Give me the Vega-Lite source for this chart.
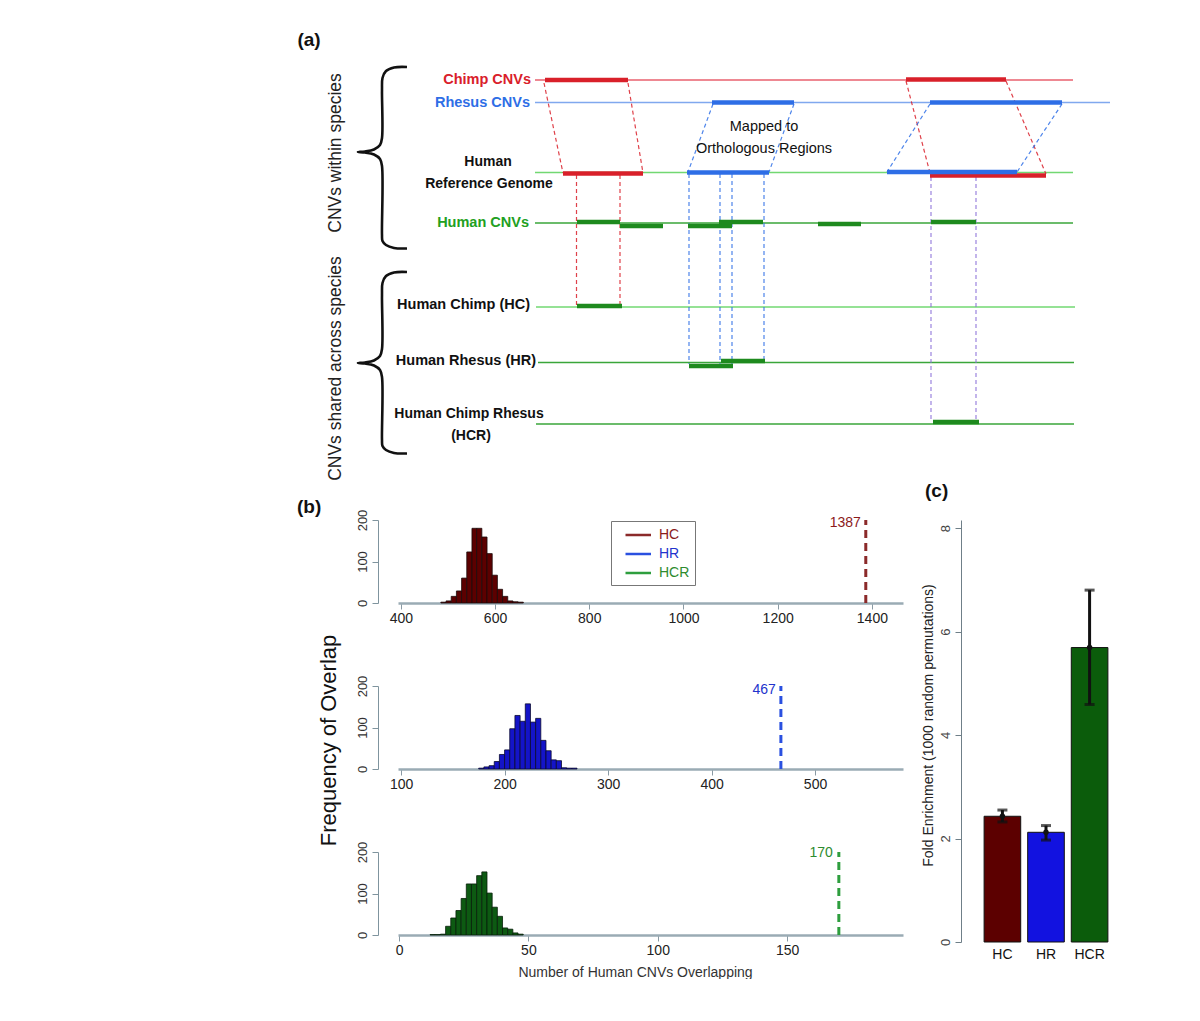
{
  "$schema": "https://vega.github.io/schema/vega-lite/v6.json",
  "padding": 0,
  "background": "white",
  "bounds": "flush",
  "spacing": 50,
  "resolve": {"scale": {"color": "independent", "fill": "independent"}},
  "config": {"view": {"stroke": null}, "font": "Liberation Sans"},
  "datasets": {
    "tracks": [
      {"x0": 53.5, "x1": 107.3, "y": 8.0, "kind": "chimpTrack"},
      {"x0": 53.5, "x1": 111.0, "y": 10.25, "kind": "rhesusTrack"},
      {"x0": 53.5, "x1": 107.3, "y": 17.25, "kind": "humanTrack"},
      {"x0": 53.5, "x1": 107.3, "y": 22.3, "kind": "sharedTrack"},
      {"x0": 53.6, "x1": 107.5, "y": 30.7, "kind": "humanTrack"},
      {"x0": 53.8, "x1": 107.4, "y": 36.25, "kind": "sharedTrack"},
      {"x0": 53.6, "x1": 107.4, "y": 42.4, "kind": "sharedTrack"}
    ],
    "dashes": [
      {"x0": 54.4, "y0": 8.3, "x1": 56.3, "y1": 17.3, "kind": "chimp"},
      {"x0": 62.8, "y0": 8.3, "x1": 64.3, "y1": 17.3, "kind": "chimp"},
      {"x0": 57.65, "y0": 17.5, "x1": 57.65, "y1": 30.6, "kind": "chimp"},
      {"x0": 62.0, "y0": 17.5, "x1": 62.0, "y1": 30.6, "kind": "chimp"},
      {"x0": 90.6, "y0": 8.1, "x1": 93.0, "y1": 17.3, "kind": "chimp"},
      {"x0": 100.6, "y0": 8.1, "x1": 104.6, "y1": 17.4, "kind": "chimp"},
      {"x0": 71.3, "y0": 10.4, "x1": 68.8, "y1": 17.2, "kind": "rhesus"},
      {"x0": 79.4, "y0": 10.4, "x1": 76.9, "y1": 17.2, "kind": "rhesus"},
      {"x0": 93.0, "y0": 10.4, "x1": 88.7, "y1": 17.2, "kind": "rhesus"},
      {"x0": 106.2, "y0": 10.4, "x1": 101.7, "y1": 17.2, "kind": "rhesus"},
      {"x0": 68.9, "y0": 17.4, "x1": 68.9, "y1": 36.4, "kind": "rhesus"},
      {"x0": 72.0, "y0": 17.4, "x1": 72.0, "y1": 36.4, "kind": "rhesus"},
      {"x0": 73.2, "y0": 17.4, "x1": 73.2, "y1": 36.4, "kind": "rhesus"},
      {"x0": 76.4, "y0": 17.4, "x1": 76.4, "y1": 36.1, "kind": "rhesus"},
      {"x0": 93.1, "y0": 17.7, "x1": 93.1, "y1": 42.2, "kind": "both"},
      {"x0": 97.6, "y0": 17.7, "x1": 97.6, "y1": 42.2, "kind": "both"}
    ],
    "segs": [
      {"x0": 54.5, "x1": 62.8, "y": 8.0, "kind": "chimp"},
      {"x0": 90.6, "x1": 100.6, "y": 7.95, "kind": "chimp"},
      {"x0": 71.2, "x1": 79.4, "y": 10.25, "kind": "rhesus"},
      {"x0": 93.0, "x1": 106.2, "y": 10.25, "kind": "rhesus"},
      {"x0": 56.3, "x1": 64.3, "y": 17.35, "kind": "chimp"},
      {"x0": 93.0, "x1": 104.6, "y": 17.55, "kind": "chimp"},
      {"x0": 68.7, "x1": 76.9, "y": 17.25, "kind": "rhesus"},
      {"x0": 88.7, "x1": 101.7, "y": 17.2, "kind": "rhesus"},
      {"x0": 57.7, "x1": 62.0, "y": 22.2, "kind": "human"},
      {"x0": 62.0, "x1": 66.3, "y": 22.6, "kind": "human"},
      {"x0": 68.8, "x1": 73.2, "y": 22.6, "kind": "human"},
      {"x0": 71.9, "x1": 76.3, "y": 22.2, "kind": "human"},
      {"x0": 81.8, "x1": 86.1, "y": 22.4, "kind": "human"},
      {"x0": 93.1, "x1": 97.6, "y": 22.2, "kind": "human"},
      {"x0": 57.7, "x1": 62.2, "y": 30.6, "kind": "human"},
      {"x0": 68.9, "x1": 73.3, "y": 36.6, "kind": "human"},
      {"x0": 72.1, "x1": 76.5, "y": 36.1, "kind": "human"},
      {"x0": 93.3, "x1": 97.9, "y": 42.2, "kind": "human"}
    ],
    "braces": [
      {"b": 1, "i": 0, "x": 40.7, "y": 6.7}, {"b": 1, "i": 1, "x": 39.4, "y": 6.75}, {"b": 1, "i": 2, "x": 38.6, "y": 7.1},
      {"b": 1, "i": 3, "x": 38.25, "y": 7.8}, {"b": 1, "i": 4, "x": 38.2, "y": 9.0}, {"b": 1, "i": 5, "x": 38.2, "y": 13.8},
      {"b": 1, "i": 6, "x": 38.0, "y": 14.5}, {"b": 1, "i": 7, "x": 37.4, "y": 14.95}, {"b": 1, "i": 8, "x": 36.5, "y": 15.15},
      {"b": 1, "i": 9, "x": 35.8, "y": 15.2}, {"b": 1, "i": 10, "x": 36.5, "y": 15.25}, {"b": 1, "i": 11, "x": 37.4, "y": 15.45},
      {"b": 1, "i": 12, "x": 38.0, "y": 15.9}, {"b": 1, "i": 13, "x": 38.2, "y": 16.6}, {"b": 1, "i": 14, "x": 38.2, "y": 23.5},
      {"b": 1, "i": 15, "x": 38.25, "y": 24.1}, {"b": 1, "i": 16, "x": 38.6, "y": 24.5}, {"b": 1, "i": 17, "x": 39.4, "y": 24.8},
      {"b": 1, "i": 18, "x": 40.7, "y": 24.85},
      {"b": 2, "i": 0, "x": 40.7, "y": 27.2}, {"b": 2, "i": 1, "x": 39.4, "y": 27.25}, {"b": 2, "i": 2, "x": 38.6, "y": 27.6},
      {"b": 2, "i": 3, "x": 38.25, "y": 28.3}, {"b": 2, "i": 4, "x": 38.2, "y": 29.5}, {"b": 2, "i": 5, "x": 38.2, "y": 34.9},
      {"b": 2, "i": 6, "x": 38.0, "y": 35.6}, {"b": 2, "i": 7, "x": 37.4, "y": 36.05}, {"b": 2, "i": 8, "x": 36.5, "y": 36.25},
      {"b": 2, "i": 9, "x": 35.8, "y": 36.3}, {"b": 2, "i": 10, "x": 36.5, "y": 36.35}, {"b": 2, "i": 11, "x": 37.4, "y": 36.55},
      {"b": 2, "i": 12, "x": 38.0, "y": 37.0}, {"b": 2, "i": 13, "x": 38.2, "y": 37.7}, {"b": 2, "i": 14, "x": 38.2, "y": 44.0},
      {"b": 2, "i": 15, "x": 38.25, "y": 44.6}, {"b": 2, "i": 16, "x": 38.6, "y": 45.0}, {"b": 2, "i": 17, "x": 39.4, "y": 45.3},
      {"b": 2, "i": 18, "x": 40.7, "y": 45.35}
    ],
    "labelsR": [
      {"t": "Chimp CNVs", "x": 53.1, "y": 8.0, "kind": "chimp"},
      {"t": "Rhesus CNVs", "x": 53.0, "y": 10.25, "kind": "rhesus"},
      {"t": "Human CNVs", "x": 52.9, "y": 22.3, "kind": "humanLabel"},
      {"t": "Human Chimp (HC)", "x": 53.0, "y": 30.5, "kind": "ink"},
      {"t": "Human Rhesus (HR)", "x": 53.6, "y": 36.1, "kind": "ink"}
    ],
    "labelsC": [
      {"t": "Human", "x": 48.8, "y": 16.2, "kind": "ink"},
      {"t": "Reference Genome", "x": 48.9, "y": 18.4, "kind": "ink"},
      {"t": "Human Chimp Rhesus", "x": 46.9, "y": 41.4, "kind": "ink"},
      {"t": "(HCR)", "x": 47.1, "y": 43.6, "kind": "ink"}
    ],
    "labelsP": [
      {"t": "Mapped to", "x": 76.4, "y": 12.7},
      {"t": "Orthologous Regions", "x": 76.4, "y": 14.9}
    ],
    "labelsRot": [
      {"t": "CNVs within species", "x": 33.6, "y": 15.3},
      {"t": "CNVs shared across species", "x": 33.6, "y": 36.85}
    ],
    "tagA": [{"t": "(a)", "x": 30.9, "y": 4.0}],
    "hc": [
      {"lo": 485, "hi": 496, "count": 2}, {"lo": 496, "hi": 507, "count": 5}, {"lo": 507, "hi": 518, "count": 16},
      {"lo": 518, "hi": 529, "count": 29}, {"lo": 529, "hi": 540, "count": 60}, {"lo": 540, "hi": 551, "count": 123},
      {"lo": 551, "hi": 561, "count": 180}, {"lo": 561, "hi": 572, "count": 180}, {"lo": 572, "hi": 583, "count": 159},
      {"lo": 583, "hi": 594, "count": 119}, {"lo": 594, "hi": 605, "count": 67}, {"lo": 605, "hi": 616, "count": 33},
      {"lo": 616, "hi": 627, "count": 16}, {"lo": 627, "hi": 638, "count": 5}, {"lo": 638, "hi": 649, "count": 3},
      {"lo": 649, "hi": 660, "count": 2}
    ],
    "hr": [
      {"lo": 175, "hi": 180, "count": 2}, {"lo": 180, "hi": 185, "count": 5}, {"lo": 185, "hi": 190, "count": 8},
      {"lo": 190, "hi": 195, "count": 18}, {"lo": 195, "hi": 200, "count": 35}, {"lo": 200, "hi": 205, "count": 46},
      {"lo": 205, "hi": 210, "count": 97}, {"lo": 210, "hi": 215, "count": 129}, {"lo": 215, "hi": 220, "count": 115},
      {"lo": 220, "hi": 225, "count": 157}, {"lo": 225, "hi": 230, "count": 113}, {"lo": 230, "hi": 235, "count": 122},
      {"lo": 235, "hi": 240, "count": 69}, {"lo": 240, "hi": 245, "count": 44}, {"lo": 245, "hi": 250, "count": 22},
      {"lo": 250, "hi": 255, "count": 20}, {"lo": 255, "hi": 260, "count": 3}, {"lo": 260, "hi": 265, "count": 2},
      {"lo": 265, "hi": 270, "count": 2}
    ],
    "hcr": [
      {"lo": 12, "hi": 14, "count": 1}, {"lo": 14, "hi": 16, "count": 1}, {"lo": 16, "hi": 18, "count": 2},
      {"lo": 18, "hi": 20, "count": 21}, {"lo": 20, "hi": 22, "count": 41}, {"lo": 22, "hi": 24, "count": 59},
      {"lo": 24, "hi": 26, "count": 88}, {"lo": 26, "hi": 28, "count": 123}, {"lo": 28, "hi": 30, "count": 123},
      {"lo": 30, "hi": 32, "count": 143}, {"lo": 32, "hi": 34, "count": 152}, {"lo": 34, "hi": 36, "count": 101},
      {"lo": 36, "hi": 38, "count": 67}, {"lo": 38, "hi": 40, "count": 45}, {"lo": 40, "hi": 42, "count": 17},
      {"lo": 42, "hi": 44, "count": 14}, {"lo": 44, "hi": 46, "count": 5}, {"lo": 46, "hi": 48, "count": 2}
    ],
    "fe": [
      {"grp": "HC", "fe": 2.43, "lo": 2.32, "hi": 2.55},
      {"grp": "HR", "fe": 2.12, "lo": 1.97, "hi": 2.25},
      {"grp": "HCR", "fe": 5.69, "lo": 4.59, "hi": 6.8}
    ]
  },
  "vconcat": [
    {
      "width": 1200,
      "height": 470,
      "layer": [
        {
          "data": {"name": "tracks"},
          "mark": {"type": "rule", "strokeWidth": 1.3},
          "encoding": {
            "x": {"field": "x0", "type": "quantitative", "scale": {"domain": [0, 120], "nice": false, "zero": false}, "axis": null},
            "x2": {"field": "x1"},
            "y": {"field": "y", "type": "quantitative", "scale": {"domain": [0, 47], "reverse": true, "nice": false, "zero": false}, "axis": null},
            "color": {"field": "kind", "type": "nominal", "legend": null,
              "scale": {"domain": ["chimp", "rhesus", "human", "chimpTrack", "rhesusTrack", "humanTrack", "sharedTrack", "both", "ink", "humanLabel"],
                        "range": ["#d9202a", "#2e6ee6", "#1e8a1e", "#e8606e", "#80a8ee", "#72d872", "#3aa63a", "#8a6fd8", "#111111", "#22a022"]}}
          }
        },
        {
          "data": {"name": "dashes"},
          "mark": {"type": "rule", "strokeWidth": 1.2, "strokeDash": [4, 3], "opacity": 0.85},
          "encoding": {
            "x": {"field": "x0", "type": "quantitative"},
            "x2": {"field": "x1"},
            "y": {"field": "y0", "type": "quantitative"},
            "y2": {"field": "y1"},
            "color": {"field": "kind", "type": "nominal", "legend": null}
          }
        },
        {
          "data": {"name": "segs"},
          "mark": {"type": "rule", "strokeWidth": 4.5, "strokeCap": "butt"},
          "encoding": {
            "x": {"field": "x0", "type": "quantitative"},
            "x2": {"field": "x1"},
            "y": {"field": "y", "type": "quantitative"},
            "color": {"field": "kind", "type": "nominal", "legend": null}
          }
        },
        {
          "data": {"name": "braces"},
          "mark": {"type": "line", "color": "#111111", "strokeWidth": 2.6, "interpolate": "catmull-rom"},
          "encoding": {
            "x": {"field": "x", "type": "quantitative"},
            "y": {"field": "y", "type": "quantitative"},
            "detail": {"field": "b", "type": "nominal"},
            "order": {"field": "i", "type": "quantitative"}
          }
        },
        {
          "data": {"name": "labelsR"},
          "mark": {"type": "text", "align": "right", "baseline": "middle", "fontSize": 14.5, "fontWeight": "bold"},
          "encoding": {
            "x": {"field": "x", "type": "quantitative"},
            "y": {"field": "y", "type": "quantitative"},
            "text": {"field": "t"},
            "color": {"field": "kind", "type": "nominal", "legend": null}
          }
        },
        {
          "data": {"name": "labelsC"},
          "mark": {"type": "text", "align": "center", "baseline": "middle", "fontSize": 14, "fontWeight": "bold"},
          "encoding": {
            "x": {"field": "x", "type": "quantitative"},
            "y": {"field": "y", "type": "quantitative"},
            "text": {"field": "t"},
            "color": {"field": "kind", "type": "nominal", "legend": null}
          }
        },
        {
          "data": {"name": "labelsP"},
          "mark": {"type": "text", "align": "center", "baseline": "middle", "fontSize": 14.5, "color": "#111111"},
          "encoding": {
            "x": {"field": "x", "type": "quantitative"},
            "y": {"field": "y", "type": "quantitative"},
            "text": {"field": "t"}
          }
        },
        {
          "data": {"name": "labelsRot"},
          "mark": {"type": "text", "align": "center", "baseline": "middle", "fontSize": 17.5, "angle": 270, "color": "#222222"},
          "encoding": {
            "x": {"field": "x", "type": "quantitative"},
            "y": {"field": "y", "type": "quantitative"},
            "text": {"field": "t"}
          }
        },
        {
          "data": {"name": "tagA"},
          "mark": {"type": "text", "align": "center", "baseline": "middle", "fontSize": 19, "fontWeight": "bold", "color": "#111111"},
          "encoding": {
            "x": {"field": "x", "type": "quantitative"},
            "y": {"field": "y", "type": "quantitative"},
            "text": {"field": "t"}
          }
        }
      ]
    },
    {
      "hconcat": [
        {"width": 388, "height": 1, "data": {"values": []}, "mark": "point"},
        {
          "vconcat": [
            {
              "width": 505,
              "height": 83,
              "title": {"text": "(b)", "anchor": "start", "frame": "group", "dx": -101, "offset": -27, "fontSize": 19, "fontWeight": "bold", "color": "#111111", "baseline": "bottom"},
              "layer": [
                {
                  "data": {"name": "hc"},
                  "mark": {"type": "bar", "fill": "#5c0000", "stroke": "#1a0a0a", "strokeWidth": 0.8},
                  "encoding": {
                    "x": {"field": "lo", "type": "quantitative", "title": null, "scale": {"domain": [394, 1466], "nice": false, "zero": false},
                      "axis": {"values": [400, 600, 800, 1000, 1200, 1400], "format": "d", "grid": false, "domainColor": "#9aabb4", "domainWidth": 2.5, "tickColor": "#8a9aa4", "tickSize": 6, "labelFontSize": 14, "labelColor": "#222222", "labelPadding": 2, "labelFlush": false, "labelOverlap": false}},
                    "x2": {"field": "hi"},
                    "y": {"field": "count", "type": "quantitative", "title": null, "scale": {"domain": [0, 200], "nice": false},
                      "axis": {"values": [0, 50, 100, 150, 200], "labelExpr": "datum.value % 100 === 0 ? datum.label : ''", "labelAngle": 270, "labelAlign": "center", "labelBaseline": "bottom", "offset": 20, "grid": false, "tickSize": 6, "domainColor": "#7f949e", "tickColor": "#7f949e", "labelColor": "#333333", "labelFontSize": 13, "labelPadding": 3}},
                    "y2": {"datum": 0}
                  }
                },
                {
                  "data": {"values": [{"series": "HC", "obs": 1387, "base": 0, "top": 200}]},
                  "mark": {"type": "rule", "strokeDash": [8, 5], "strokeWidth": 3},
                  "encoding": {
                    "x": {"field": "obs", "type": "quantitative", "title": null},
                    "y": {"field": "base", "type": "quantitative", "title": null},
                    "y2": {"field": "top"},
                    "color": {"field": "series", "type": "nominal",
                      "scale": {"domain": ["HC", "HR", "HCR"], "range": ["#8b2a2a", "#2a50e0", "#2e9e3e"]},
                      "legend": {"orient": "none", "legendX": 213, "legendY": 1, "title": null, "symbolType": "M-1,0H2.4", "symbolSize": 225, "symbolStrokeWidth": 2.5, "symbolOffset": 8, "labelFontSize": 14, "labelOffset": 17, "padding": 5, "rowPadding": 3, "strokeColor": "#777777", "fillColor": "white",
                        "encode": {"labels": {"update": {"fill": {"signal": "datum.value === 'HC' ? '#8b1a1a' : datum.value === 'HR' ? '#2233cc' : '#2e8b2e'"}}}}}}
                  }
                },
                {
                  "data": {"values": [{"obs": 1387}]},
                  "mark": {"type": "text", "align": "right", "baseline": "middle", "dx": -5, "fontSize": 14, "color": "#8b1a1a"},
                  "encoding": {
                    "x": {"field": "obs", "type": "quantitative", "title": null},
                    "y": {"datum": 193},
                    "text": {"field": "obs", "type": "nominal"}
                  }
                }
              ]
            },
            {
              "width": 505,
              "height": 83,
              "layer": [
                {
                  "data": {"name": "hr"},
                  "mark": {"type": "bar", "fill": "#1414c8", "stroke": "#0a0a30", "strokeWidth": 0.8},
                  "encoding": {
                    "x": {"field": "lo", "type": "quantitative", "title": null, "scale": {"domain": [97, 585], "nice": false, "zero": false},
                      "axis": {"values": [100, 200, 300, 400, 500], "format": "d", "grid": false, "domainColor": "#9aabb4", "domainWidth": 2.5, "tickColor": "#8a9aa4", "tickSize": 6, "labelFontSize": 14, "labelColor": "#222222", "labelPadding": 2, "labelFlush": false, "labelOverlap": false}},
                    "x2": {"field": "hi"},
                    "y": {"field": "count", "type": "quantitative", "title": "Frequency of Overlap", "scale": {"domain": [0, 200], "nice": false},
                      "axis": {"values": [0, 50, 100, 150, 200], "labelExpr": "datum.value % 100 === 0 ? datum.label : ''", "labelAngle": 270, "labelAlign": "center", "labelBaseline": "bottom", "offset": 20, "grid": false, "tickSize": 6, "domainColor": "#7f949e", "tickColor": "#7f949e", "labelColor": "#333333", "labelFontSize": 13, "labelPadding": 3,
                        "titleFontSize": 22, "titleFontWeight": "normal", "titleColor": "#111111", "titleAngle": 270, "titleX": -50, "titleY": 54, "titleAlign": "center", "titleBaseline": "middle"}},
                    "y2": {"datum": 0}
                  }
                },
                {
                  "data": {"values": [{"obs": 467, "base": 0, "top": 200}]},
                  "mark": {"type": "rule", "strokeDash": [8, 5], "strokeWidth": 3, "color": "#2a50e0"},
                  "encoding": {
                    "x": {"field": "obs", "type": "quantitative", "title": null},
                    "y": {"field": "base", "type": "quantitative", "title": "Frequency of Overlap"},
                    "y2": {"field": "top"}
                  }
                },
                {
                  "data": {"values": [{"obs": 467}]},
                  "mark": {"type": "text", "align": "right", "baseline": "middle", "dx": -5, "fontSize": 14, "color": "#2233cc"},
                  "encoding": {
                    "x": {"field": "obs", "type": "quantitative", "title": null},
                    "y": {"datum": 190},
                    "text": {"field": "obs", "type": "nominal"}
                  }
                }
              ]
            },
            {
              "width": 505,
              "height": 83,
              "layer": [
                {
                  "data": {"name": "hcr"},
                  "mark": {"type": "bar", "fill": "#0d5a12", "stroke": "#08200a", "strokeWidth": 0.8},
                  "encoding": {
                    "x": {"field": "lo", "type": "quantitative", "title": "Number of Human CNVs Overlapping", "scale": {"domain": [-0.4, 194.8], "nice": false, "zero": false},
                      "axis": {"values": [0, 50, 100, 150], "format": "d", "grid": false, "domainColor": "#9aabb4", "domainWidth": 2.5, "tickColor": "#8a9aa4", "tickSize": 6, "labelFontSize": 14, "labelColor": "#222222", "labelPadding": 2, "labelFlush": false, "labelOverlap": false,
                        "titleFontSize": 14, "titleFontWeight": "normal", "titleColor": "#333333", "titlePadding": 8, "titleX": 237, "titleAlign": "center"}},
                    "x2": {"field": "hi"},
                    "y": {"field": "count", "type": "quantitative", "title": null, "scale": {"domain": [0, 200], "nice": false},
                      "axis": {"values": [0, 50, 100, 150, 200], "labelExpr": "datum.value % 100 === 0 ? datum.label : ''", "labelAngle": 270, "labelAlign": "center", "labelBaseline": "bottom", "offset": 20, "grid": false, "tickSize": 6, "domainColor": "#7f949e", "tickColor": "#7f949e", "labelColor": "#333333", "labelFontSize": 13, "labelPadding": 3}},
                    "y2": {"datum": 0}
                  }
                },
                {
                  "data": {"values": [{"obs": 170, "base": 0, "top": 200}]},
                  "mark": {"type": "rule", "strokeDash": [8, 5], "strokeWidth": 3, "color": "#2e9e3e"},
                  "encoding": {
                    "x": {"field": "obs", "type": "quantitative", "title": "Number of Human CNVs Overlapping"},
                    "y": {"field": "base", "type": "quantitative", "title": null},
                    "y2": {"field": "top"}
                  }
                },
                {
                  "data": {"values": [{"obs": 170}]},
                  "mark": {"type": "text", "align": "right", "baseline": "middle", "dx": -6, "fontSize": 14, "color": "#2e8b2e"},
                  "encoding": {
                    "x": {"field": "obs", "type": "quantitative", "title": "Number of Human CNVs Overlapping"},
                    "y": {"datum": 197},
                    "text": {"field": "obs", "type": "nominal"}
                  }
                }
              ]
            }
          ],
          "spacing": 83,
          "bounds": "flush",
          "resolve": {"scale": {"color": "independent"}}
        },
        {"width": 560, "height": 1, "data": {"values": []}, "mark": "point"},
        {
          "width": 136,
          "height": 422,
          "title": {"text": "(c)", "anchor": "start", "frame": "group", "dx": -53, "offset": 0, "fontSize": 19, "fontWeight": "bold", "color": "#111111", "baseline": "bottom"},
          "data": {"name": "fe"},
          "layer": [
            {
              "mark": {"type": "bar", "stroke": "#111111", "strokeWidth": 1},
              "encoding": {
                "x": {"field": "grp", "type": "nominal", "sort": null, "title": null, "scale": {"paddingInner": 0.16, "paddingOuter": 0.14},
                  "axis": {"labelAngle": 0, "domain": false, "ticks": false, "labelFontSize": 14, "labelColor": "#111111", "labelPadding": 5}},
                "y": {"field": "fe", "type": "quantitative", "title": "Fold Enrichment (1000 random permutations)", "scale": {"domain": [0, 8.155], "nice": false},
                  "axis": {"values": [0, 2, 4, 6, 8], "labelAngle": 270, "labelAlign": "center", "labelBaseline": "bottom", "offset": 17, "grid": false, "tickSize": 6, "domainColor": "#6f7f88", "tickColor": "#6f7f88", "labelColor": "#444444", "labelFontSize": 13, "labelPadding": 3,
                    "titleFontSize": 14, "titleFontWeight": "normal", "titleColor": "#222222", "titleAngle": 270, "titleX": -33, "titleY": 205, "titleAlign": "center", "titleBaseline": "middle"}},
                "fill": {"field": "grp", "type": "nominal", "sort": null, "legend": null, "scale": {"domain": ["HC", "HR", "HCR"], "range": ["#5c0000", "#1212e0", "#0b5c0b"]}}
              }
            },
            {
              "mark": {"type": "rule", "color": "#111111", "strokeWidth": 3},
              "encoding": {
                "x": {"field": "grp", "type": "nominal", "sort": null, "title": null},
                "y": {"field": "lo", "type": "quantitative", "title": "Fold Enrichment (1000 random permutations)"},
                "y2": {"field": "hi"}
              }
            },
            {
              "mark": {"type": "tick", "color": "#111111", "thickness": 3, "size": 10},
              "encoding": {
                "x": {"field": "grp", "type": "nominal", "sort": null, "title": null},
                "y": {"field": "lo", "type": "quantitative", "title": "Fold Enrichment (1000 random permutations)"}
              }
            },
            {
              "mark": {"type": "tick", "color": "#111111", "thickness": 3, "size": 10},
              "encoding": {
                "x": {"field": "grp", "type": "nominal", "sort": null, "title": null},
                "y": {"field": "hi", "type": "quantitative", "title": "Fold Enrichment (1000 random permutations)"}
              }
            },
            {
              "mark": {"type": "point", "filled": true, "color": "#111111", "size": 30, "opacity": 1},
              "encoding": {
                "x": {"field": "grp", "type": "nominal", "sort": null, "title": null},
                "y": {"field": "fe", "type": "quantitative", "title": "Fold Enrichment (1000 random permutations)"}
              }
            }
          ]
        }
      ],
      "spacing": 10,
      "bounds": "flush",
      "resolve": {"scale": {"color": "independent", "fill": "independent"}}
    }
  ]
}
